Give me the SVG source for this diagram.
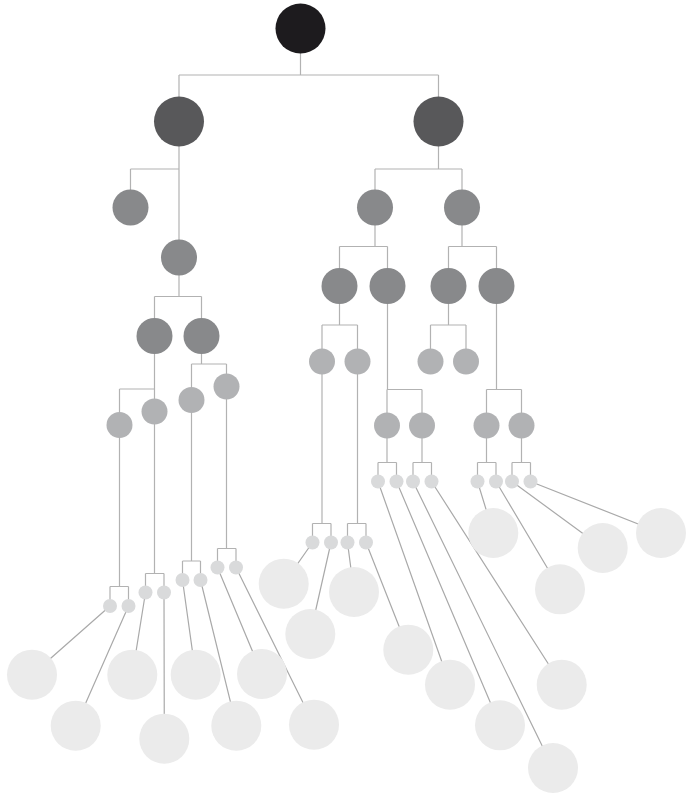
<svg xmlns="http://www.w3.org/2000/svg" width="686" height="798" viewBox="0 0 686 798">
<style>
.c{fill:none;stroke:#b2b2b2;stroke-width:1.2}
.l{fill:none;stroke:#a9a9a9;stroke-width:1.2}
.n0{fill:#1d1b1e}
.n1{fill:#58585a}
.n2{fill:#88898b}
.n3{fill:#b1b2b4}
.n4{fill:#d9dadb}
.n5{fill:#ebebeb}
</style>
<rect width="686" height="798" fill="#ffffff"/>
<g id="connectors">
<path class="c" d="M300.5 28.5V75M179 75H438.5M179 75V121.5M438.5 75V121.5"/>
<path class="c" d="M179 121.5V257.5M130.5 169H179M130.5 169V207.5"/>
<path class="c" d="M438.5 121.5V169M375 169H462M375 169V207.5M462 169V207.5"/>
<path class="c" d="M179 257.5V296.5M154.5 296.5H201.5M154.5 296.5V336M201.5 296.5V336"/>
<path class="c" d="M154.5 336V411.5M119.5 389H154.5M119.5 389V425"/>
<path class="c" d="M201.5 336V364M191.5 364H226.5M191.5 364V400M226.5 364V386.5"/>
<path class="c" d="M375 207.5V246.5M339.5 246.5H387.5M339.5 246.5V286M387.5 246.5V286"/>
<path class="c" d="M462 207.5V246.5M448.5 246.5H496.5M448.5 246.5V286M496.5 246.5V286"/>
<path class="c" d="M339.5 286V325M322 325H357.5M322 325V361.5M357.5 325V361.5"/>
<path class="c" d="M387.5 286V389.5M387 389.5H422M387 389.5V425.5M422 389.5V425.5"/>
<path class="c" d="M448.5 286V325M430.5 325H466M430.5 325V361.5M466 325V361.5"/>
<path class="c" d="M496.5 286V389.5M486.5 389.5H521.5M486.5 389.5V425.5M521.5 389.5V425.5"/>
<path class="c" d="M119.5 425V586.5M110 586.5H128.5M110 586.5V606M128.5 586.5V606"/>
<path class="c" d="M154.5 411.5V573.5M145.5 573.5H164M145.5 573.5V592.5M164 573.5V592.5"/>
<path class="c" d="M191.5 400V561M182.5 561H200.5M182.5 561V580M200.5 561V580"/>
<path class="c" d="M226.5 386.5V548.5M217.5 548.5H236M217.5 548.5V567.5M236 548.5V567.5"/>
<path class="c" d="M322 361.5V523.5M312.5 523.5H331M312.5 523.5V542.5M331 523.5V542.5"/>
<path class="c" d="M357.5 361.5V523.5M347.5 523.5H366M347.5 523.5V542.5M366 523.5V542.5"/>
<path class="c" d="M387 425.5V462.5M378 462.5H396.5M378 462.5V481.5M396.5 462.5V481.5"/>
<path class="c" d="M422 425.5V462.5M413 462.5H431.5M413 462.5V481.5M431.5 462.5V481.5"/>
<path class="c" d="M486.5 425.5V462.5M477.5 462.5H496M477.5 462.5V481.5M496 462.5V481.5"/>
<path class="c" d="M521.5 425.5V462.5M512 462.5H530.5M512 462.5V481.5M530.5 462.5V481.5"/>
<path class="l" d="M110 606L32 674.7M128.5 606L75.7 725.7M145.5 592.5L132.3 674.7M164 592.5L164.3 738.7M182.5 580L195.7 674.7M200.5 580L236.3 725.7M217.5 567.5L262 674M236 567.5L314 724.7"/>
<path class="l" d="M312.5 542.5L283.7 583.7M331 542.5L310.3 634M347.5 542.5L354 592M366 542.5L408.3 649.7"/>
<path class="l" d="M378 481.5L450 684.7M396.5 481.5L500 725.3M413 481.5L553 768M431.5 481.5L561.7 684.7"/>
<path class="l" d="M477.5 481.5L493.3 533M496 481.5L560 589.3M512 481.5L602.7 548M530.5 481.5L661 533"/>
</g>
<g id="root"><circle class="n0" cx="300.5" cy="28.5" r="25"/></g>
<g id="A"><circle class="n1" cx="179" cy="121.5" r="25"/></g>
<g id="B"><circle class="n1" cx="438.5" cy="121.5" r="25"/></g>
<g id="A1"><circle class="n2" cx="130.5" cy="207.5" r="18"/></g>
<g id="A2"><circle class="n2" cx="179" cy="257.5" r="18"/></g>
<g id="A2a"><circle class="n2" cx="154.5" cy="336" r="18"/></g>
<g id="A2b"><circle class="n2" cx="201.5" cy="336" r="18"/></g>
<g id="B1"><circle class="n2" cx="375" cy="207.5" r="18"/></g>
<g id="B2"><circle class="n2" cx="462" cy="207.5" r="18"/></g>
<g id="B1a"><circle class="n2" cx="339.5" cy="286" r="18"/></g>
<g id="B1b"><circle class="n2" cx="387.5" cy="286" r="18"/></g>
<g id="B2a"><circle class="n2" cx="448.5" cy="286" r="18"/></g>
<g id="B2b"><circle class="n2" cx="496.5" cy="286" r="18"/></g>
<g id="A2a1"><circle class="n3" cx="119.5" cy="425" r="13"/></g>
<g id="A2a2"><circle class="n3" cx="154.5" cy="411.5" r="13"/></g>
<g id="A2b1"><circle class="n3" cx="191.5" cy="400" r="13"/></g>
<g id="A2b2"><circle class="n3" cx="226.5" cy="386.5" r="13"/></g>
<g id="B1a1"><circle class="n3" cx="322" cy="361.5" r="13"/></g>
<g id="B1a2"><circle class="n3" cx="357.5" cy="361.5" r="13"/></g>
<g id="B1b1"><circle class="n3" cx="387" cy="425.5" r="13"/></g>
<g id="B1b2"><circle class="n3" cx="422" cy="425.5" r="13"/></g>
<g id="B2a1"><circle class="n3" cx="430.5" cy="361.5" r="13"/></g>
<g id="B2a2"><circle class="n3" cx="466" cy="361.5" r="13"/></g>
<g id="B2b1"><circle class="n3" cx="486.5" cy="425.5" r="13"/></g>
<g id="B2b2"><circle class="n3" cx="521.5" cy="425.5" r="13"/></g>
<g id="s1"><circle class="n4" cx="110" cy="606" r="7"/></g>
<g id="s2"><circle class="n4" cx="128.5" cy="606" r="7"/></g>
<g id="s3"><circle class="n4" cx="145.5" cy="592.5" r="7"/></g>
<g id="s4"><circle class="n4" cx="164" cy="592.5" r="7"/></g>
<g id="s5"><circle class="n4" cx="182.5" cy="580" r="7"/></g>
<g id="s6"><circle class="n4" cx="200.5" cy="580" r="7"/></g>
<g id="s7"><circle class="n4" cx="217.5" cy="567.5" r="7"/></g>
<g id="s8"><circle class="n4" cx="236" cy="567.5" r="7"/></g>
<g id="s9"><circle class="n4" cx="312.5" cy="542.5" r="7"/></g>
<g id="s10"><circle class="n4" cx="331" cy="542.5" r="7"/></g>
<g id="s11"><circle class="n4" cx="347.5" cy="542.5" r="7"/></g>
<g id="s12"><circle class="n4" cx="366" cy="542.5" r="7"/></g>
<g id="s13"><circle class="n4" cx="378" cy="481.5" r="7"/></g>
<g id="s14"><circle class="n4" cx="396.5" cy="481.5" r="7"/></g>
<g id="s15"><circle class="n4" cx="413" cy="481.5" r="7"/></g>
<g id="s16"><circle class="n4" cx="431.5" cy="481.5" r="7"/></g>
<g id="s17"><circle class="n4" cx="477.5" cy="481.5" r="7"/></g>
<g id="s18"><circle class="n4" cx="496" cy="481.5" r="7"/></g>
<g id="s19"><circle class="n4" cx="512" cy="481.5" r="7"/></g>
<g id="s20"><circle class="n4" cx="530.5" cy="481.5" r="7"/></g>
<g id="L1"><circle class="n5" cx="32" cy="674.7" r="25"/></g>
<g id="L2"><circle class="n5" cx="75.7" cy="725.7" r="25"/></g>
<g id="L3"><circle class="n5" cx="132.3" cy="674.7" r="25"/></g>
<g id="L4"><circle class="n5" cx="164.3" cy="738.7" r="25"/></g>
<g id="L5"><circle class="n5" cx="195.7" cy="674.7" r="25"/></g>
<g id="L6"><circle class="n5" cx="236.3" cy="725.7" r="25"/></g>
<g id="L7"><circle class="n5" cx="262" cy="674" r="25"/></g>
<g id="L8"><circle class="n5" cx="314" cy="724.7" r="25"/></g>
<g id="L9"><circle class="n5" cx="283.7" cy="583.7" r="25"/></g>
<g id="L10"><circle class="n5" cx="310.3" cy="634" r="25"/></g>
<g id="L11"><circle class="n5" cx="354" cy="592" r="25"/></g>
<g id="L12"><circle class="n5" cx="408.3" cy="649.7" r="25"/></g>
<g id="L13"><circle class="n5" cx="450" cy="684.7" r="25"/></g>
<g id="L14"><circle class="n5" cx="500" cy="725.3" r="25"/></g>
<g id="L15"><circle class="n5" cx="553" cy="768" r="25"/></g>
<g id="L16"><circle class="n5" cx="561.7" cy="684.7" r="25"/></g>
<g id="L17"><circle class="n5" cx="493.3" cy="533" r="25"/></g>
<g id="L18"><circle class="n5" cx="560" cy="589.3" r="25"/></g>
<g id="L19"><circle class="n5" cx="602.7" cy="548" r="25"/></g>
<g id="L20"><circle class="n5" cx="661" cy="533" r="25"/></g>
</svg>
